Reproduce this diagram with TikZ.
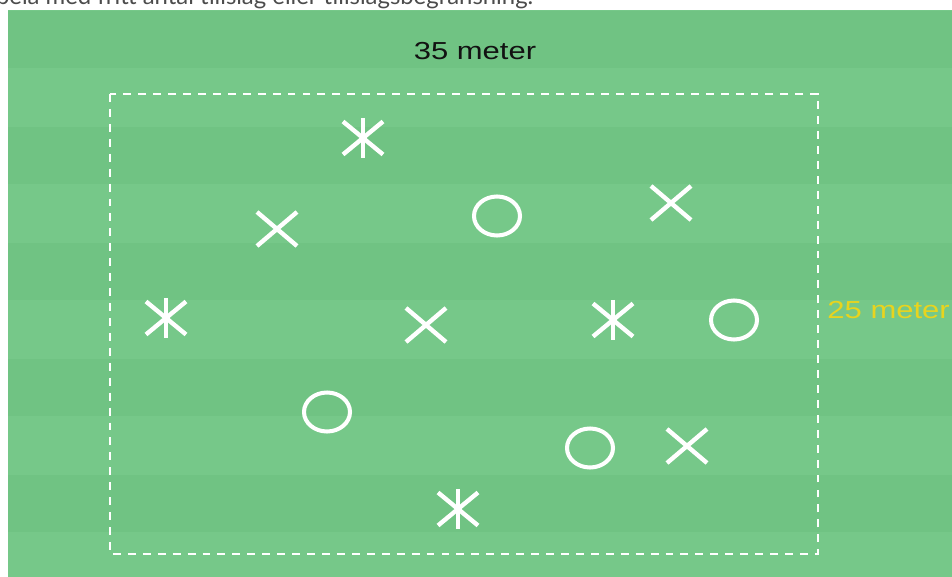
\documentclass[tikz,border=0pt]{standalone}
\usepackage{fontspec}
\setmainfont{Liberation Sans}
\newfontfamily\introfont{Lato}
\usepackage{xcolor}
\usetikzlibrary{shapes.geometric, shapes.misc}

\definecolor{grasslight}{RGB}{118,200,137}
\definecolor{grassdark}{RGB}{112,195,131}
\definecolor{labelyellow}{RGB}{232,212,30}

\begin{document}
\begin{tikzpicture}[
        x=0.02cm, y=-0.02cm,
        player/.style={
            draw=white,
            line width=2.5pt,
            inner sep=0pt,
            outer sep=0pt
        },
        cross/.style={player, cross out, minimum width=0.80cm, minimum height=0.68cm},
        asterisk/.style={player, cross out, minimum width=0.80cm, minimum height=0.66cm},
        ring/.style={player, ellipse, line width=2.3pt, minimum width=0.92cm, minimum height=0.78cm},
        stem/.style={draw=white, line width=2.5pt},
        boundary/.style={draw=white, line width=1.5pt, dash pattern=on 4.5pt off 4pt},
        measure/.style={font=\fontsize{14}{16}\selectfont, inner sep=0pt, xscale=1.26}
    ]

        \useasboundingbox (0,0) rectangle (952,577);
        \clip (0,0) rectangle (952,577);
        \fill[white] (0,0) rectangle (952,577);

        % cut-off caption above the field
        \node[anchor=base west, inner sep=0pt, text=black!70,
              font=\introfont\fontsize{13.6}{16}\selectfont] (intro) at (-17,5)
              {Spela med fritt antal tillslag eller tillslagsbegränsning.};

        % grass
        \fill[grasslight] (8,10) rectangle (952,577);
        \foreach \y in {11,127,243,359,475}
            \fill[grassdark] (8,\y) rectangle (952,\y+57);

        % playing area
        \coordinate (nw) at (110,94);
        \coordinate (se) at (818,554);
        \draw[boundary] (nw) rectangle (se);

        \node[measure, anchor=base, text=black!93] (length) at (475,60) {35 meter};
        \node[measure, anchor=base west, text=labelyellow] (width) at (827,318) {25 meter};

        % players
        \node[asterisk] (s1) at (363,138) {};
        \node[asterisk] (s2) at (166,318) {};
        \node[asterisk] (s3) at (613,320) {};
        \node[asterisk] (s4) at (458,509) {};
        \foreach \s in {s1,s2,s3,s4}
            \draw[stem] ([yshift=2pt]\s.north) -- ([yshift=-2pt]\s.south);

        \node[cross] (x1) at (277,229) {};
        \node[cross] (x2) at (671,203) {};
        \node[cross] (x3) at (426,325) {};
        \node[cross] (x4) at (687,446) {};

        \node[ring] (o1) at (497,216) {};
        \node[ring] (o2) at (734,320) {};
        \node[ring] (o3) at (327,412) {};
        \node[ring] (o4) at (590,448) {};

    \end{tikzpicture}
\end{document}
